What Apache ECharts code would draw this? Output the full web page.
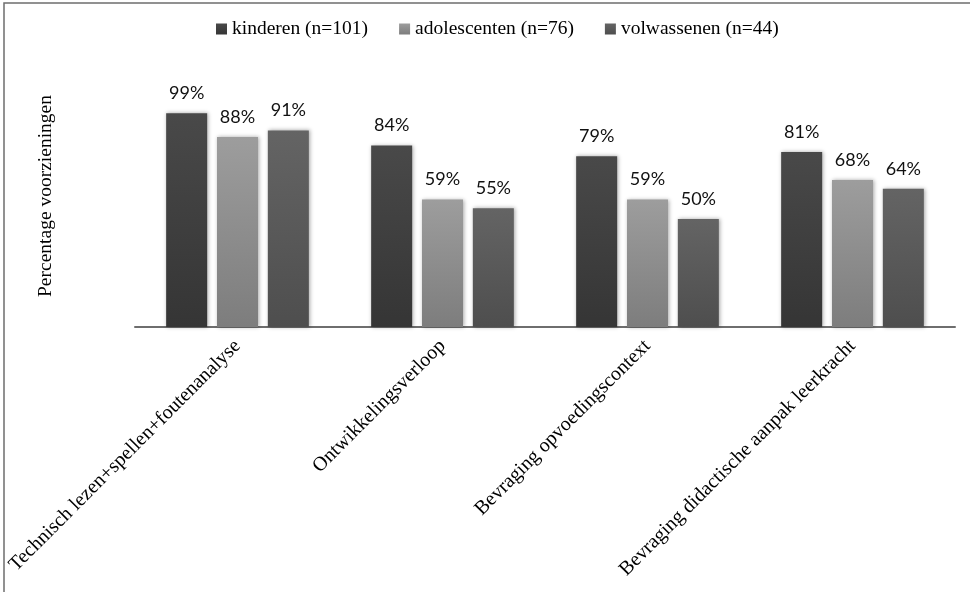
<!DOCTYPE html>
<html>
<head>
<meta charset="utf-8">
<script src="https://cdn.jsdelivr.net/npm/echarts@6/dist/echarts.min.js"></script>
<style>
  html, body { margin: 0; padding: 0; background: #fff; }
  #chart { width: 970px; height: 592px; }
</style>
</head>
<body>
<div id="chart"></div>
<script>
// Aspects covered in the diagnostic assessment, per age group (percentage of services)
const categories = [
  'Technisch lezen+spellen+foutenanalyse',
  'Ontwikkelingsverloop',
  'Bevraging opvoedingscontext',
  'Bevraging didactische aanpak leerkracht'
];
const seriesNames = ['kinderen (n=101)', 'adolescenten (n=76)', 'volwassenen (n=44)'];
const kinderen = [99, 84, 79, 81];
const adolescenten = [88, 59, 59, 68];
const volwassenen = [91, 55, 50, 64];

const serif = '"Liberation Serif", "Times New Roman", serif';
const sans = 'Lato, "Open Sans", sans-serif';

function grad(top, bottom) {
  return new echarts.graphic.LinearGradient(0, 0, 0, 1, [
    { offset: 0, color: top },
    { offset: 1, color: bottom }
  ]);
}

function barSeries(name, data, top, bottom) {
  return {
    name: name,
    type: 'bar',
    data: data,
    barWidth: 41,
    barGap: '24%',
    itemStyle: {
      color: grad(top, bottom),
      shadowBlur: 4,
      shadowColor: 'rgba(0,0,0,0.35)',
      shadowOffsetX: 1,
      shadowOffsetY: 0
    },
    label: {
      show: true,
      position: 'top',
      distance: 11,
      formatter: '{c}%',
      fontFamily: sans,
      fontSize: 18,
      color: '#111'
    }
  };
}

const chart = echarts.init(document.getElementById('chart'));
chart.setOption({
  animation: false,
  backgroundColor: '#fff',
  graphic: [{
    type: 'rect',
    shape: { x: 4, y: 3, width: 1200, height: 1200 },
    style: { fill: 'none', stroke: '#6e6e6e', lineWidth: 1.5 },
    silent: true
  }],
  legend: {
    data: seriesNames,
    icon: 'rect',
    left: 211,
    top: 14,
    itemWidth: 11,
    itemHeight: 11,
    itemGap: 31,
    textStyle: { fontFamily: serif, fontSize: 19.5, color: '#000' }
  },
  grid: { left: 135, right: 15, top: 111, bottom: 265 },
  xAxis: {
    type: 'category',
    data: categories,
    axisLine: { show: true, lineStyle: { color: '#6e6e6e', width: 2 } },
    axisTick: { show: false },
    axisLabel: {
      rotate: 45,
      interval: 0,
      margin: 16,
      fontFamily: serif,
      fontSize: 20,
      color: '#000'
    }
  },
  yAxis: {
    type: 'value',
    min: 0,
    max: 100,
    name: 'Percentage voorzieningen',
    nameLocation: 'middle',
    nameRotate: 90,
    nameGap: 79,
    nameTextStyle: { fontFamily: serif, fontSize: 19.5, color: '#000', padding: [0, 0, 0, 46] },
    axisLine: { show: false },
    axisTick: { show: false },
    axisLabel: { show: false },
    splitLine: { show: false }
  },
  series: [
    barSeries(seriesNames[0], kinderen, '#494949', '#353535'),
    barSeries(seriesNames[1], adolescenten, '#9d9d9d', '#7d7d7d'),
    barSeries(seriesNames[2], volwassenen, '#646464', '#4e4e4e')
  ]
});
</script>
</body>
</html>
